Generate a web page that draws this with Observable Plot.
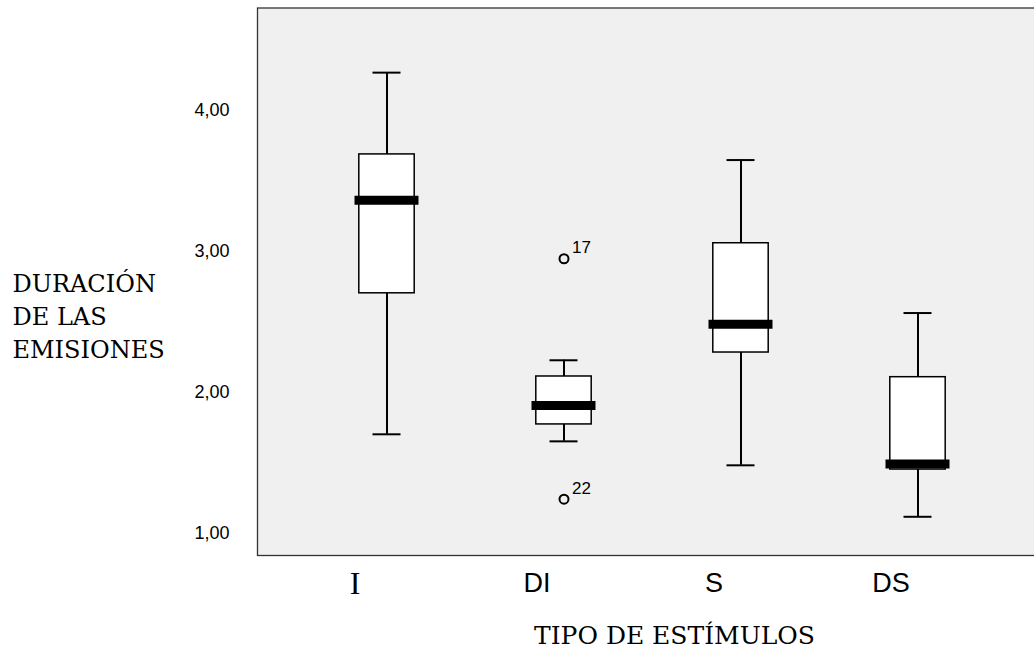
<!DOCTYPE html>
<html><head><meta charset="utf-8">
<script src="https://cdn.jsdelivr.net/npm/d3@7"></script>
<script src="https://cdn.jsdelivr.net/npm/@observablehq/plot@0.6"></script>
<style>body{margin:0;background:#fff} #chart svg{display:block}</style>
</head><body><div id="chart"></div>
<script>
const categories = ["I", "DI", "S", "DS"];
const whiskerLow = [1.70, 1.65, 1.48, 1.115];
const quartile1 = [2.70, 1.77, 2.28, 1.45];
const medians = [3.36, 1.905, 2.48, 1.49];
const quartile3 = [3.685, 2.11, 3.055, 2.105];
const whiskerHigh = [4.265, 2.225, 3.645, 2.56];
const outlierCategory = ["DI", "DI"];
const outlierValue = [2.945, 1.24];
const outlierLabel = ["17", "22"];
const yTicks = [1, 2, 3, 4];
const yTitle = "DURACIÓN\nDE LAS\nEMISIONES";
const xTitle = "TIPO DE ESTÍMULOS";
const serifCategories = ["I"];
const sansCategories = ["DI", "S", "DS"];

const boxes = categories.map((c, i) => ({cat: c, lo: whiskerLow[i], q1: quartile1[i], med: medians[i], q3: quartile3[i], hi: whiskerHigh[i]}));
const outliers = outlierValue.map((v, i) => ({cat: outlierCategory[i], v, label: outlierLabel[i]}));

const chart = Plot.plot({
  width: 1034, height: 660,
  marginLeft: 257, marginRight: 0, marginTop: 7.5, marginBottom: 105,
  style: {background: "#fff", fontFamily: "Liberation Sans", color: "#000"},
  x: {domain: categories, range: [297.1, 1005.9], padding: 0, axis: null},
  y: {domain: [0.8404, 4.7234]},
  marks: [
    Plot.frame({fill: "#f0f0f0", stroke: "#333", strokeWidth: 1.3, insetRight: -5}),
    Plot.axisY({ticks: yTicks, tickFormat: d => d.toFixed(2).replace(".", ","), tickSize: 0, tickPadding: 28, fontSize: 18, fontFamily: "Liberation Sans", label: null}),
    Plot.ruleX(boxes, {x: "cat", y1: "lo", y2: "q1", stroke: "#000", strokeWidth: 2}),
    Plot.ruleX(boxes, {x: "cat", y1: "q3", y2: "hi", stroke: "#000", strokeWidth: 2}),
    Plot.tickY(boxes, {x: "cat", y: "lo", stroke: "#000", strokeWidth: 2, insetLeft: 74.5, insetRight: 74.5}),
    Plot.tickY(boxes, {x: "cat", y: "hi", stroke: "#000", strokeWidth: 2, insetLeft: 74.5, insetRight: 74.5}),
    Plot.barY(boxes, {x: "cat", y1: "q1", y2: "q3", fill: "#fff", stroke: "#000", strokeWidth: 1.5, insetLeft: 60.8, insetRight: 60.8}),
    Plot.tickY(boxes, {x: "cat", y: "med", stroke: "#000", strokeWidth: 9, insetLeft: 56.5, insetRight: 56.5}),
    Plot.dot(outliers, {x: "cat", y: "v", r: 4.5, stroke: "#000", strokeWidth: 2, fill: "none"}),
    Plot.text(outliers, {x: "cat", y: "v", text: "label", textAnchor: "start", dx: 8, dy: -11, fontSize: 17, fontFamily: "Liberation Sans", fill: "#000"}),
    Plot.text(serifCategories, {x: d => d, text: d => d, frameAnchor: "bottom", dx: -32, dy: 38, fontFamily: "Liberation Serif", fontSize: 32, fill: "#000"}),
    Plot.text(sansCategories, {x: d => d, text: d => d, frameAnchor: "bottom", dx: -27, dy: 36.4, fontFamily: "Liberation Sans", fontSize: 27, fill: "#000"}),
    Plot.text([yTitle], {text: d => d, frameAnchor: "left", textAnchor: "start", dx: -245, dy: 32.75, lineHeight: 1.36, fontFamily: "DejaVu Serif", fontSize: 24, fill: "#000"}),
    Plot.text([xTitle], {text: d => d, frameAnchor: "bottom", dx: 28.5, dy: 88.7, fontFamily: "DejaVu Serif", fontSize: 25, fill: "#000"})
  ]
});
document.getElementById("chart").appendChild(chart);
</script>
</body></html>
